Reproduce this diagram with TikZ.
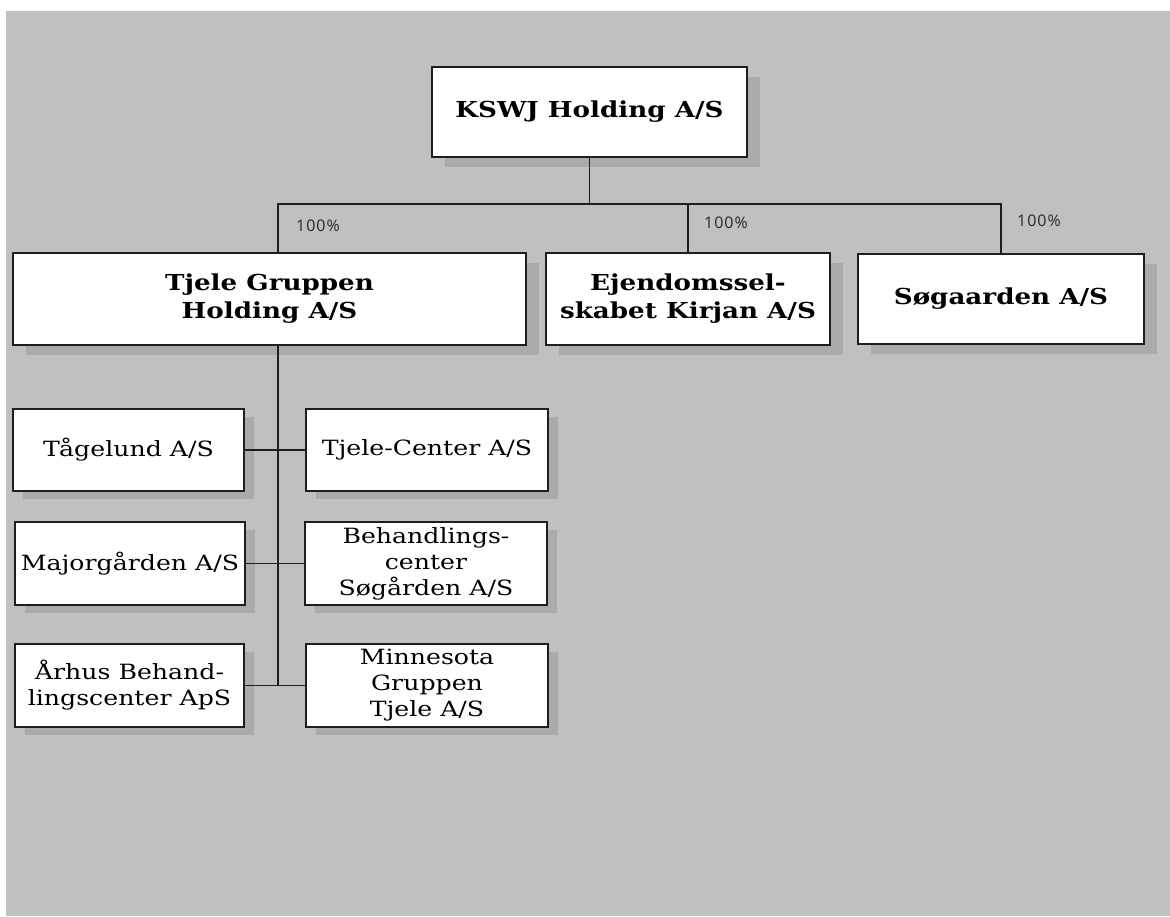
\documentclass[tikz,border=0pt]{standalone}
\usepackage{fontspec}
\usetikzlibrary{shadows}
\newfontfamily\regfont{DejaVu Serif}[FakeStretch=1.2]
\newfontfamily\boldfont{DejaVu Serif}[FakeStretch=1.19]
\newfontfamily\pctfont{Open Sans}[LetterSpace=6]
\definecolor{bggray}{HTML}{C0C0C0}
\definecolor{shadowc}{HTML}{ABABAB}
\definecolor{edge}{HTML}{1E1E1E}
\tikzset{
  boxbase/.style={draw=edge, line width=1.6pt, fill=white, rectangle, inner sep=0pt, align=center, text=black},
  bigbox/.style={boxbase, drop shadow={shadow xshift=13pt, shadow yshift=-10pt, fill=shadowc, opacity=1},
                 font=\boldfont\bfseries\fontsize{22}{28}\selectfont},
  smallbox/.style={boxbase, drop shadow={shadow xshift=10pt, shadow yshift=-8pt, fill=shadowc, opacity=1},
                 font=\regfont\fontsize{21}{26}\selectfont},
  link/.style={draw=edge, line width=1.6pt},
  pct/.style={anchor=west, inner sep=0pt, font=\pctfont\fontsize{16}{19}\selectfont, text=black!85}
}
\begin{document}
\begin{tikzpicture}[x=1pt,y=-1pt]
\useasboundingbox (0,0) rectangle (1170,916);
\fill[bggray] (6,11) rectangle (1170,916);
% top level
\node[bigbox, minimum width=315pt, minimum height=90pt] (k) at (589.5,112) {KSWJ Holding A/S};
% second level
\node[bigbox, minimum width=513pt, minimum height=92pt] (t) at (269.5,299) {Tjele Gruppen\\Holding A/S};
\node[bigbox, minimum width=284pt, minimum height=92pt] (e) at (688,299) {Ejendomssel-\\skabet Kirjan A/S};
\node[bigbox, minimum width=286pt, minimum height=90pt] (s) at (1001,299) {Søgaarden A/S};
% third level
\node[smallbox, minimum width=231pt, minimum height=82pt] (tg) at (128.5,450) {Tågelund A/S};
\node[smallbox, minimum width=242pt, minimum height=82pt] (tc) at (427,450) {Tjele-Center A/S};
\node[smallbox, minimum width=230pt, minimum height=83pt] (mg) at (130,563.5) {Majorgården A/S};
\node[smallbox, minimum width=242pt, minimum height=83pt] (bh) at (426,563.5) {Behandlings-\\center\\Søgården A/S};
\node[smallbox, minimum width=229pt, minimum height=83pt] (ar) at (129.5,685.5) {Århus Behand-\\lingscenter ApS};
\node[smallbox, minimum width=242pt, minimum height=83pt] (mn) at (427,685.5) {Minnesota\\Gruppen\\Tjele A/S};
% connectors
\coordinate (j) at (278,204);
\draw[link] (k.south) -- (k.south |- j);
\draw[link] (t.north -| j) -- (j) -| (s.north);
\draw[link] (e.north) -- (e.north |- j);
\draw[link] (t.south -| j) -- (j |- ar.east);
\draw[link] (tg.east) -- (tc.west);
\draw[link] (mg.east) -- (bh.west);
\draw[link] (ar.east) -- (mn.west);
% labels
\node[pct] (p1) at (296,226) {100\%};
\node[pct] (p2) at (704,223) {100\%};
\node[pct] (p3) at (1017,221) {100\%};
\end{tikzpicture}
\end{document}
